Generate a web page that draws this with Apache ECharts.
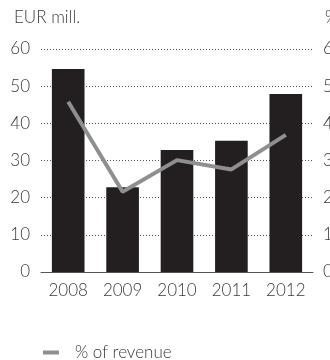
<!DOCTYPE html>
<html>
<head>
<meta charset="utf-8">
<script src="https://cdn.jsdelivr.net/npm/echarts@6/dist/echarts.min.js"></script>
<style>
  html, body { margin: 0; padding: 0; background: #fff; }
  #chart { width: 330px; height: 360px; }
</style>
</head>
<body>
<div id="chart"></div>
<script>
// Operating figures by year
const years = ['2008', '2009', '2010', '2011', '2012'];
const eurMill = [54.6, 22.8, 32.8, 35.3, 47.9];      // bars, left axis (EUR mill.)
const pctRevenue = [45.8, 21.6, 30.1, 27.6, 36.9];   // line, right axis (%)
const axisTicks = [0, 10, 20, 30, 40, 50, 60];

const font = 'Lato, "Open Sans", sans-serif';
const textColor = '#3a3a3a';
const fs = 17;

const chart = echarts.init(document.getElementById('chart'), null, { renderer: 'canvas' });

chart.setOption({
  animation: false,
  textStyle: { fontFamily: font },
  title: [
    { text: 'EUR mill.', left: 9, top: 4,
      textStyle: { fontFamily: font, fontSize: fs, fontWeight: 300, color: textColor } },
    { text: '%', left: 320, top: 4,
      textStyle: { fontFamily: font, fontSize: fs, fontWeight: 300, color: textColor } }
  ],
  // fixed plot box; right-axis labels are allowed to run past the canvas edge
  grid: { left: 41, right: 17, top: 49, bottom: 88, containLabel: false, outerBoundsMode: 'none' },
  legend: {
    data: ['% of revenue'],
    left: 38, top: 339,
    icon: 'rect', itemWidth: 16, itemHeight: 4, itemGap: 8,
    textStyle: { fontFamily: font, fontSize: 17, fontWeight: 300, color: textColor, padding: [0, 0, 0, 11] }
  },
  xAxis: {
    type: 'category',
    data: years,
    axisTick: { show: false },
    axisLine: { lineStyle: { color: '#555', width: 1 } },
    axisLabel: { interval: 0, hideOverlap: false, margin: 10, fontSize: fs, fontWeight: 300, color: textColor, fontFamily: font }
  },
  yAxis: [
    {
      type: 'value', min: axisTicks[0], max: axisTicks[axisTicks.length - 1], interval: 10,
      axisLine: { show: false }, axisTick: { show: false },
      axisLabel: { margin: 11, fontSize: fs, fontWeight: 300, color: textColor, fontFamily: font },
      splitLine: { lineStyle: { type: [1, 2], color: '#555', width: 1 } }
    },
    {
      type: 'value', min: axisTicks[0], max: axisTicks[axisTicks.length - 1], interval: 10,
      position: 'right',
      axisLine: { show: false }, axisTick: { show: false },
      axisLabel: { margin: 10, fontSize: fs, fontWeight: 300, color: textColor, fontFamily: font, align: 'left' },
      splitLine: { show: false }
    }
  ],
  series: [
    {
      name: 'EUR mill.', type: 'bar', data: eurMill, yAxisIndex: 0,
      barWidth: '60%',
      itemStyle: { color: '#231f20' }
    },
    {
      name: '% of revenue', type: 'line', data: pctRevenue, yAxisIndex: 1,
      symbol: 'none',
      lineStyle: { color: '#8f8f8f', width: 4 },
      itemStyle: { color: '#8f8f8f' }
    }
  ]
});
</script>
</body>
</html>
